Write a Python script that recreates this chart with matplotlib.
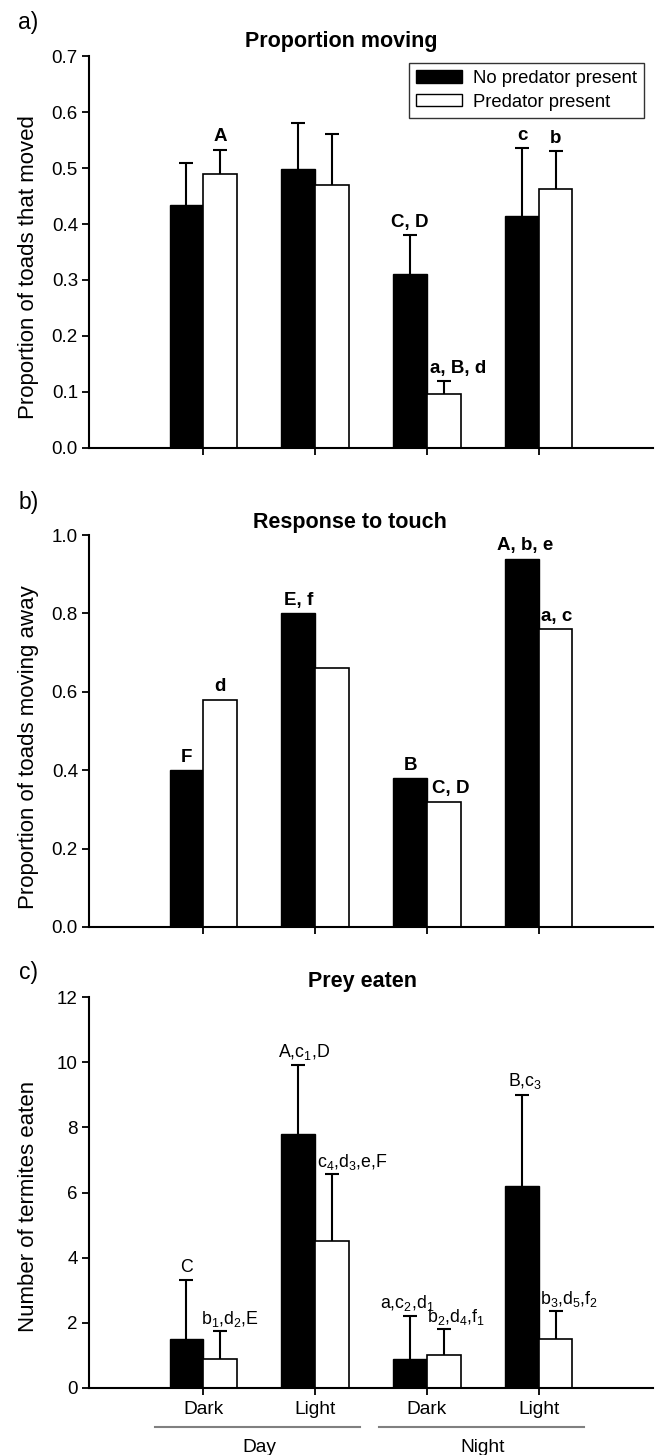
import matplotlib
matplotlib.use("Agg")
import matplotlib.pyplot as plt
from matplotlib.patches import Patch
import numpy as np

plt.rcParams['font.family'] = ['Liberation Sans', 'DejaVu Sans']
plt.rcParams['mathtext.fontset'] = 'custom'
plt.rcParams['mathtext.rm'] = 'Liberation Sans'
plt.rcParams['mathtext.it'] = 'Liberation Sans:italic'
plt.rcParams['mathtext.bf'] = 'Liberation Sans:bold'

# ---------------- data ----------------
conditions = ["Dark", "Light", "Dark", "Light"]
groups = ["Day", "Night"]
series = ["No predator present", "Predator present"]

# a) Proportion moving
a_no = [0.434, 0.498, 0.310, 0.414]
a_no_se = [0.075, 0.083, 0.070, 0.122]
a_pred = [0.489, 0.470, 0.096, 0.462]
a_pred_se = [0.044, 0.091, 0.023, 0.068]
a_no_lab = ["", "", "C, D", "c"]
a_pred_lab = ["A", "", "a, B, d", "b"]

# b) Response to touch
b_no = [0.40, 0.80, 0.38, 0.94]
b_pred = [0.58, 0.66, 0.32, 0.76]
b_no_lab = ["F", "E, f", "B", "A, b, e"]
b_pred_lab = ["d", "", "C, D", "a, c"]

# c) Prey eaten
c_no = [1.5, 7.8, 0.9, 6.2]
c_no_se = [1.8, 2.1, 1.3, 2.8]
c_pred = [0.9, 4.5, 1.0, 1.5]
c_pred_se = [0.85, 2.07, 0.82, 0.87]
c_no_lab = ["C", "A,c$_1$,D", "a,c$_2$,d$_1$", "B,c$_3$"]
c_pred_lab = ["b$_1$,d$_2$,E", "c$_4$,d$_3$,e,F", "b$_2$,d$_4$,f$_1$", "b$_3$,d$_5$,f$_2$"]

titles = ["Proportion moving", "Response to touch", "Prey eaten"]
ylabels = ["Proportion of toads that moved", "Proportion of toads moving away",
           "Number of termites eaten"]

# ---------------- figure ----------------
W, H = 655, 1455
fig = plt.figure(figsize=(W / 100, H / 100), dpi=100)

def rect(top_px, bot_px, left_px=89, right_px=653):
    return [left_px / W, 1 - bot_px / H, (right_px - left_px) / W, (bot_px - top_px) / H]

axa = fig.add_axes(rect(56, 448))
axb = fig.add_axes(rect(535, 927))
axc = fig.add_axes(rect(997, 1388))

pos = np.arange(1, 5)
bw = 0.30

def style_axes(ax):
    for s in ['top', 'right']:
        ax.spines[s].set_visible(False)
    for s in ['left', 'bottom']:
        ax.spines[s].set_linewidth(1.5)
    ax.tick_params(axis='both', direction='out', length=5, width=1.3,
                   labelsize=13.5, pad=3)
    ax.set_xlim(-0.02, 5.02)
    ax.set_xticks(pos)

def upper_err(ax, xs, vals, se):
    _, caps, _ = ax.errorbar(xs, vals, yerr=[np.zeros(len(vals)), se], fmt='none',
                             ecolor='black', elinewidth=1.5, capsize=5, capthick=1.5,
                             zorder=3)
    if len(caps) == 2:
        caps[0].set_visible(False)

def draw(ax, no, pred, no_se=None, pred_se=None):
    ax.bar(pos - bw / 2, no, width=bw, color='black', edgecolor='black', linewidth=1, zorder=2)
    ax.bar(pos + bw / 2, pred, width=bw, color='white', edgecolor='black', linewidth=1.2, zorder=2)
    if no_se is not None:
        upper_err(ax, pos - bw / 2, no, no_se)
        upper_err(ax, pos + bw / 2, pred, pred_se)

def annotate(ax, xs, tops, labels, dxs, bold, size, dy):
    for x, t, lab, dx in zip(xs, tops, labels, dxs):
        if lab:
            ax.annotate(lab, (x, t), xytext=(dx, dy), textcoords='offset points',
                        ha='center', va='baseline', fontsize=size,
                        fontweight='bold' if bold else 'normal')

# panel a
style_axes(axa)
draw(axa, a_no, a_pred, a_no_se, a_pred_se)
axa.set_ylim(0, 0.7)
axa.set_yticks(np.arange(0, 0.71, 0.1))
axa.set_yticklabels([f"{v:.1f}" for v in np.arange(0, 0.71, 0.1)])
axa.set_xticklabels([])
annotate(axa, pos - bw / 2, np.add(a_no, a_no_se), a_no_lab, [0, 0, 0, 0], True, 13.5, 6)
annotate(axa, pos + bw / 2, np.add(a_pred, a_pred_se), a_pred_lab, [0, 0, 10, 0], True, 13.5, 6)
handles = [Patch(facecolor='black', edgecolor='black', label=series[0]),
           Patch(facecolor='white', edgecolor='black', label=series[1])]
leg = axa.legend(handles=handles, loc='upper right', bbox_to_anchor=(0.984, 0.982),
                 fontsize=13.3, frameon=True, fancybox=False, edgecolor='black',
                 handlelength=2.5, handleheight=0.65, handletextpad=0.6,
                 labelspacing=0.35, borderpad=0.38, borderaxespad=0)
leg.get_frame().set_linewidth(1.0)

# panel b
style_axes(axb)
draw(axb, b_no, b_pred)
axb.set_ylim(0, 1.0)
axb.set_yticks(np.arange(0, 1.01, 0.2))
axb.set_yticklabels([f"{v:.1f}" for v in np.arange(0, 1.01, 0.2)])
axb.set_xticklabels([])
annotate(axb, pos - bw / 2, b_no, b_no_lab, [0, 0, 0, 2], True, 13.5, 6)
annotate(axb, pos + bw / 2, b_pred, b_pred_lab, [0, 0, 5, 1], True, 13.5, 6)

# panel c
style_axes(axc)
draw(axc, c_no, c_pred, c_no_se, c_pred_se)
axc.set_ylim(0, 12)
axc.set_yticks(np.arange(0, 13, 2))
axc.set_xticklabels(conditions, fontsize=13.8)
axc.tick_params(axis='x', pad=4)
annotate(axc, pos - bw / 2, np.add(c_no, c_no_se), c_no_lab, [0, 4, -2, 2], False, 12.8, 6)
annotate(axc, pos + bw / 2, np.add(c_pred, c_pred_se), c_pred_lab, [7, 15, 9, 10], False, 12.8, 5)

# group lines and labels (Day / Night)
trans = axc.get_xaxis_transform()
for gi, g in enumerate(groups):
    p0, p1 = pos[2 * gi], pos[2 * gi + 1]
    axc.plot([p0 - 0.43, p1 + 0.40], [-0.10, -0.10], transform=trans, color='#808080',
             lw=1.5, clip_on=False)
    axc.text((p0 + p1) / 2, -0.153, g, transform=trans, ha='center', va='center',
             fontsize=13.8)

# titles, panel letters, y labels
title_pos = [(341, 41), (350, 522), (363, 982)]
letter_pos = [(28, 22), (29, 503), (28, 973)]
ylab_pos = [(29, 267), (29, 747), (29, 1206)]
for i in range(3):
    tx, ty = title_pos[i]
    fig.text(tx / W, 1 - ty / H, titles[i], ha='center', va='center',
             fontsize=15.5, fontweight='bold')
    lx, ly = letter_pos[i]
    fig.text(lx / W, 1 - ly / H, "abc"[i] + ")", ha='center', va='center', fontsize=16.5)
    yx, yy = ylab_pos[i]
    fig.text(yx / W, 1 - yy / H, ylabels[i], ha='center', va='center',
             rotation=90, fontsize=16)

fig.savefig("out.png", dpi=100)
